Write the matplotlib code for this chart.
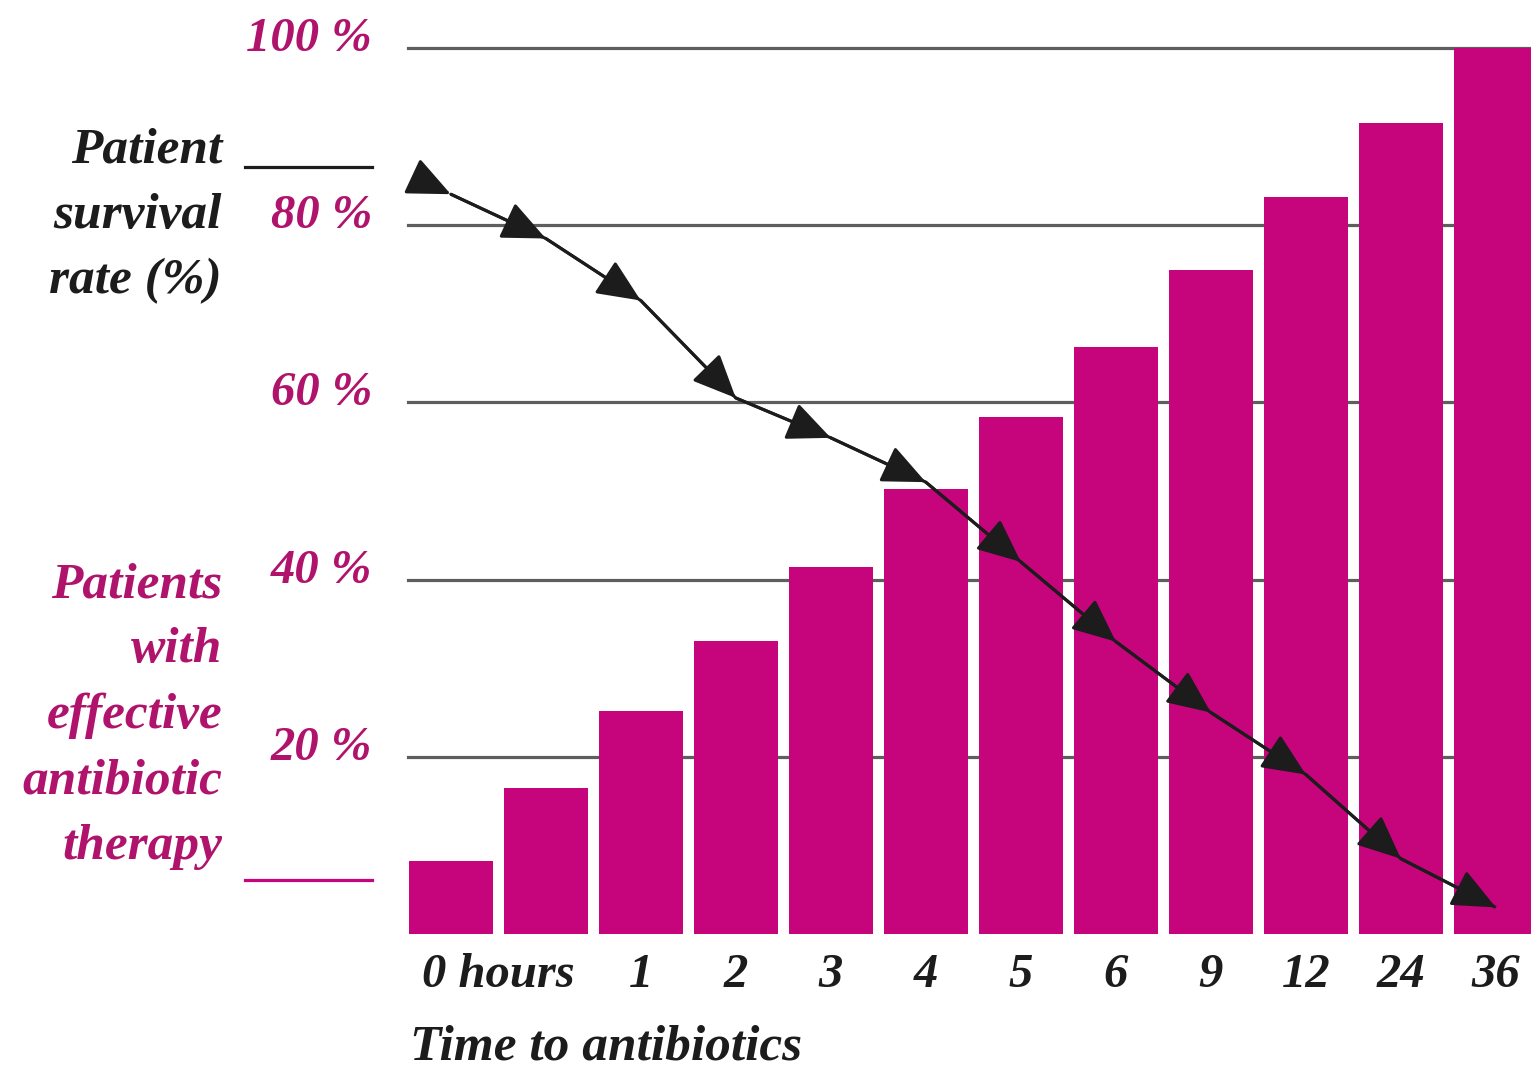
import matplotlib
matplotlib.use("Agg")
import matplotlib.pyplot as plt
from matplotlib.lines import Line2D
import numpy as np

# Time-interval bins (hours after onset) and their tick labels
bins = ["0-0.5", "0.5-1", "1-2", "2-3", "3-4", "4-5", "5-6", "6-9", "9-12", "12-24", "24-36", ">36"]
tick_positions = [0.5, 2, 3, 4, 5, 6, 7, 8, 9, 10, 11]
tick_labels = ["0 hours", "1", "2", "3", "4", "5", "6", "9", "12", "24", "36"]

# Share of patients who had received effective antibiotic therapy (%)
therapy_pct = [8.2, 16.5, 25.2, 33.1, 41.4, 50.2, 58.4, 66.2, 74.9, 83.2, 91.5, 100]
# Patient survival rate (%)
survival_pct = [83.5, 78.5, 71.5, 60.5, 56.0, 51.0, 42.0, 33.0, 25.0, 18.0, 8.5, 3.0]

grid_values = [20, 40, 60, 80, 100]

MAGENTA = "#C6047B"
MAGENTA_TEXT = "#B0136C"
INK = "#1c1c1c"
GRID = "#5e5e5e"
FONT = dict(family="Liberation Serif", style="italic", weight="bold")
FS_TICK = 35
FS_TEXT = 37

W, H = 1531, 1070
fig = plt.figure(figsize=(W / 100, H / 100), dpi=100)
ax = fig.add_axes([408 / W, 136 / H, (W - 408) / W, 886 / H])
ax.set_xlim(-0.45, 11.37)
ax.set_ylim(0, 100)
for s in ax.spines.values():
    s.set_visible(False)
ax.set_yticks([])

x = np.arange(len(bins))

# horizontal reference lines with their percentage labels
for v in grid_values:
    ax.axhline(v, color=GRID, lw=2.3, zorder=0, clip_on=False)
    ax.annotate(f"{v} %", xy=(0, v), xycoords=ax.get_yaxis_transform(),
                xytext=(-36, 9), textcoords="offset pixels",
                ha="right", va="center", color=MAGENTA_TEXT, fontsize=FS_TICK, **FONT)

# bars: patients with effective therapy
ax.bar(x, therapy_pct, width=0.885, color=MAGENTA, zorder=2)

# survival line with an arrowhead at every point
ax.plot(x, survival_pct, color=INK, lw=2.2, zorder=4, solid_capstyle="butt")
arrow_style = "-|>,head_length=27,head_width=12"
pts = list(zip(x.astype(float), survival_pct))
for i, (px, py) in enumerate(pts):
    if i == 0:
        nx, ny = pts[1]
        sx, sy = px - 0.3 * (nx - px), py - 0.3 * (ny - py)
    else:
        sx, sy = pts[i - 1]
    ax.annotate("", xy=(px, py), xytext=(sx, sy),
                arrowprops=dict(arrowstyle=arrow_style, mutation_scale=1,
                                color=INK, lw=2.2, shrinkA=0, shrinkB=0),
                zorder=5)

# x tick labels
ax.set_xticks(tick_positions)
ax.set_xticklabels(tick_labels, fontsize=FS_TICK, color=INK, **FONT)
ax.tick_params(axis="x", length=0, pad=14)

fig.text(410 / W, 1 - 1048 / H, "Time to antibiotics", ha="left", va="center",
         fontsize=FS_TEXT, color=INK, **FONT)

# left-hand legend
fig.text(222 / W, 1 - 216 / H, "Patient\nsurvival\nrate (%)", ha="right", va="center",
         multialignment="right", linespacing=1.55, fontsize=FS_TEXT, color=INK, **FONT)
fig.add_artist(Line2D([245 / W, 372 / W], [1 - 167 / H] * 2, transform=fig.transFigure,
                      color=INK, lw=2.3))
fig.text(222 / W, 1 - 716 / H, "Patients\nwith\neffective\nantibiotic\ntherapy", ha="right",
         va="center", multialignment="right", linespacing=1.55, fontsize=FS_TEXT,
         color=MAGENTA_TEXT, **FONT)
fig.add_artist(Line2D([245 / W, 372 / W], [1 - 880 / H] * 2, transform=fig.transFigure,
                      color=MAGENTA, lw=2.3))

fig.savefig("out.png", dpi=100, facecolor="white")
